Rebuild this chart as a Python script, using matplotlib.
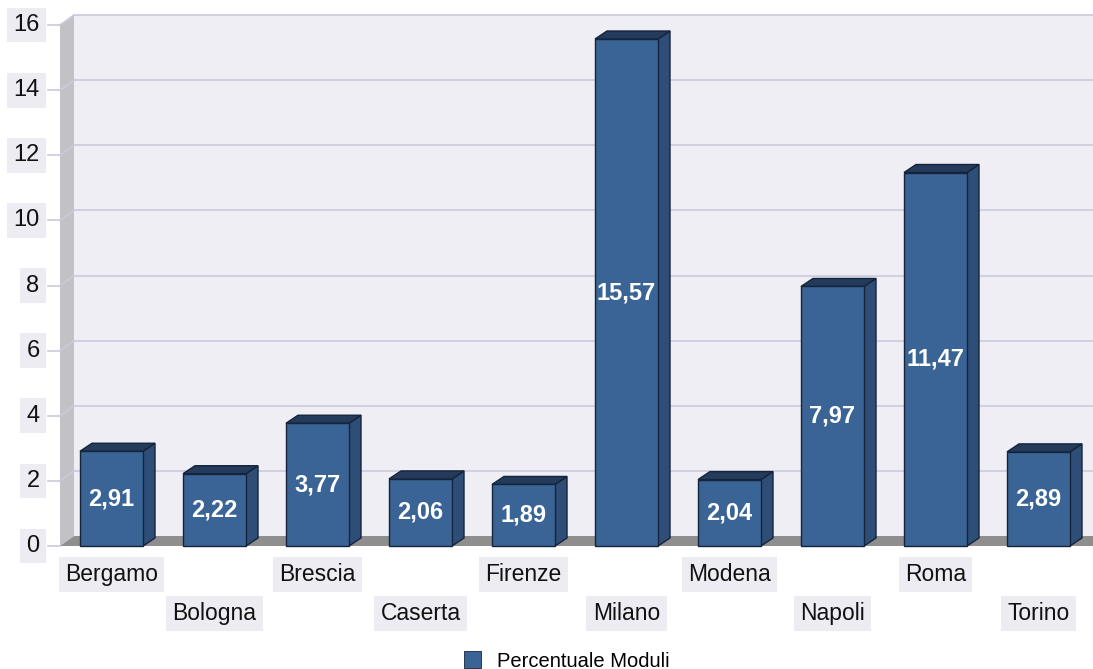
import matplotlib.pyplot as plt
from matplotlib.patches import Polygon, Rectangle, Patch

plt.rcParams['font.family'] = ['Liberation Sans', 'DejaVu Sans']

# Dati
citta = ['Bergamo', 'Bologna', 'Brescia', 'Caserta', 'Firenze',
         'Milano', 'Modena', 'Napoli', 'Roma', 'Torino']
valori = [2.91, 2.22, 3.77, 2.06, 1.89, 15.57, 2.04, 7.97, 11.47, 2.89]
yticks = [0, 2, 4, 6, 8, 10, 12, 14, 16]
serie = 'Percentuale Moduli'

# colori
c_front = '#3a6496'
c_top = '#243b5c'
c_side = '#2e4e78'
c_edge = '#15243a'
c_wall = '#efeef4'
c_lwall = '#c2c2c6'
c_floor = '#8e8e8e'
c_grid = '#cbcadc'
c_box = '#ececf2'

W, H = 1093, 669
fig = plt.figure(figsize=(W / 100, H / 100), dpi=100)
x0, x1, y0, y16 = 60, 1090, 546, 25
ax = fig.add_axes([x0 / W, (H - y0) / H, (x1 - x0) / W, (y0 - y16) / H])
ax.set_xlim(0, len(citta))
ax.set_ylim(0, 16)
ax.axis('off')

ppx = (x1 - x0) / len(citta)
ppy = (y0 - y16) / 16

def dx(p):
    return p / ppx

def dy(p):
    return p / ppy

wdx, wdy = dx(14), dy(10)   # profondita' pareti
bdx, bdy = dx(12), dy(8)    # profondita' barre
xr = dx(W + 5 - x0)

def poly(pts, fc, ec='none', lw=0, z=1):
    ax.add_patch(Polygon(pts, closed=True, fc=fc, ec=ec, lw=lw, zorder=z,
                         clip_on=False, joinstyle='miter'))

# pareti e pavimento
poly([(wdx, wdy), (xr, wdy), (xr, 16 + wdy), (wdx, 16 + wdy)], c_wall)
poly([(0, 0), (wdx, wdy), (wdx, 16 + wdy), (0, 16)], c_lwall)
poly([(0, 0), (xr, 0), (xr, wdy), (wdx, wdy)], c_floor)

for v in yticks[1:]:
    ax.plot([wdx, xr], [v + wdy, v + wdy], color=c_grid, lw=1.2, zorder=2, clip_on=False)
    ax.plot([0, wdx], [v, v + wdy], color=c_grid, lw=1.2, zorder=2, clip_on=False)
for v in yticks:
    ax.plot([dx(-12), 0], [v, v], color=c_grid, lw=1.2, zorder=2, clip_on=False)
    ax.text(dx(39.5 - x0), v, str(v), ha='right', va='center', fontsize=17,
            color='#111111', zorder=5,
            bbox=dict(boxstyle='square,pad=0.27', fc=c_box, ec='none'))

# barre
hw = dx(31.5)
for i, (nome, v) in enumerate(zip(citta, valori)):
    c = i + 0.5
    l, r = c - hw, c + hw
    poly([(r, 0), (r + bdx, bdy), (r + bdx, v + bdy), (r, v)], c_side, c_edge, 1, 3)
    poly([(l, v), (r, v), (r + bdx, v + bdy), (l + bdx, v + bdy)], c_top, c_edge, 1, 3)
    poly([(l, 0), (r, 0), (r, v), (l, v)], c_front, c_edge, 1, 4)
    ax.text(c, v / 2, f'{v:.2f}'.replace('.', ','), ha='center', va='center',
            fontsize=17, fontweight='bold', color='white', zorder=6)
    ylab = -dy(574.5 - y0) if i % 2 == 0 else -dy(613.5 - y0)
    ax.text(c, ylab, nome, ha='center', va='center', fontsize=16.5,
            color='#111111', zorder=5,
            bbox=dict(boxstyle='square,pad=0.28', fc=c_box, ec='none'))

# legenda
fig.legend(handles=[Patch(fc=c_front, ec=c_edge, lw=0.6, label=serie)],
           loc='center', bbox_to_anchor=(567 / W, (H - 661) / H), frameon=False,
           fontsize=14.5, handlelength=0.85, handleheight=0.85, handletextpad=0.8,
           borderpad=0, borderaxespad=0)

fig.savefig('out.png', dpi=100, facecolor='white')
